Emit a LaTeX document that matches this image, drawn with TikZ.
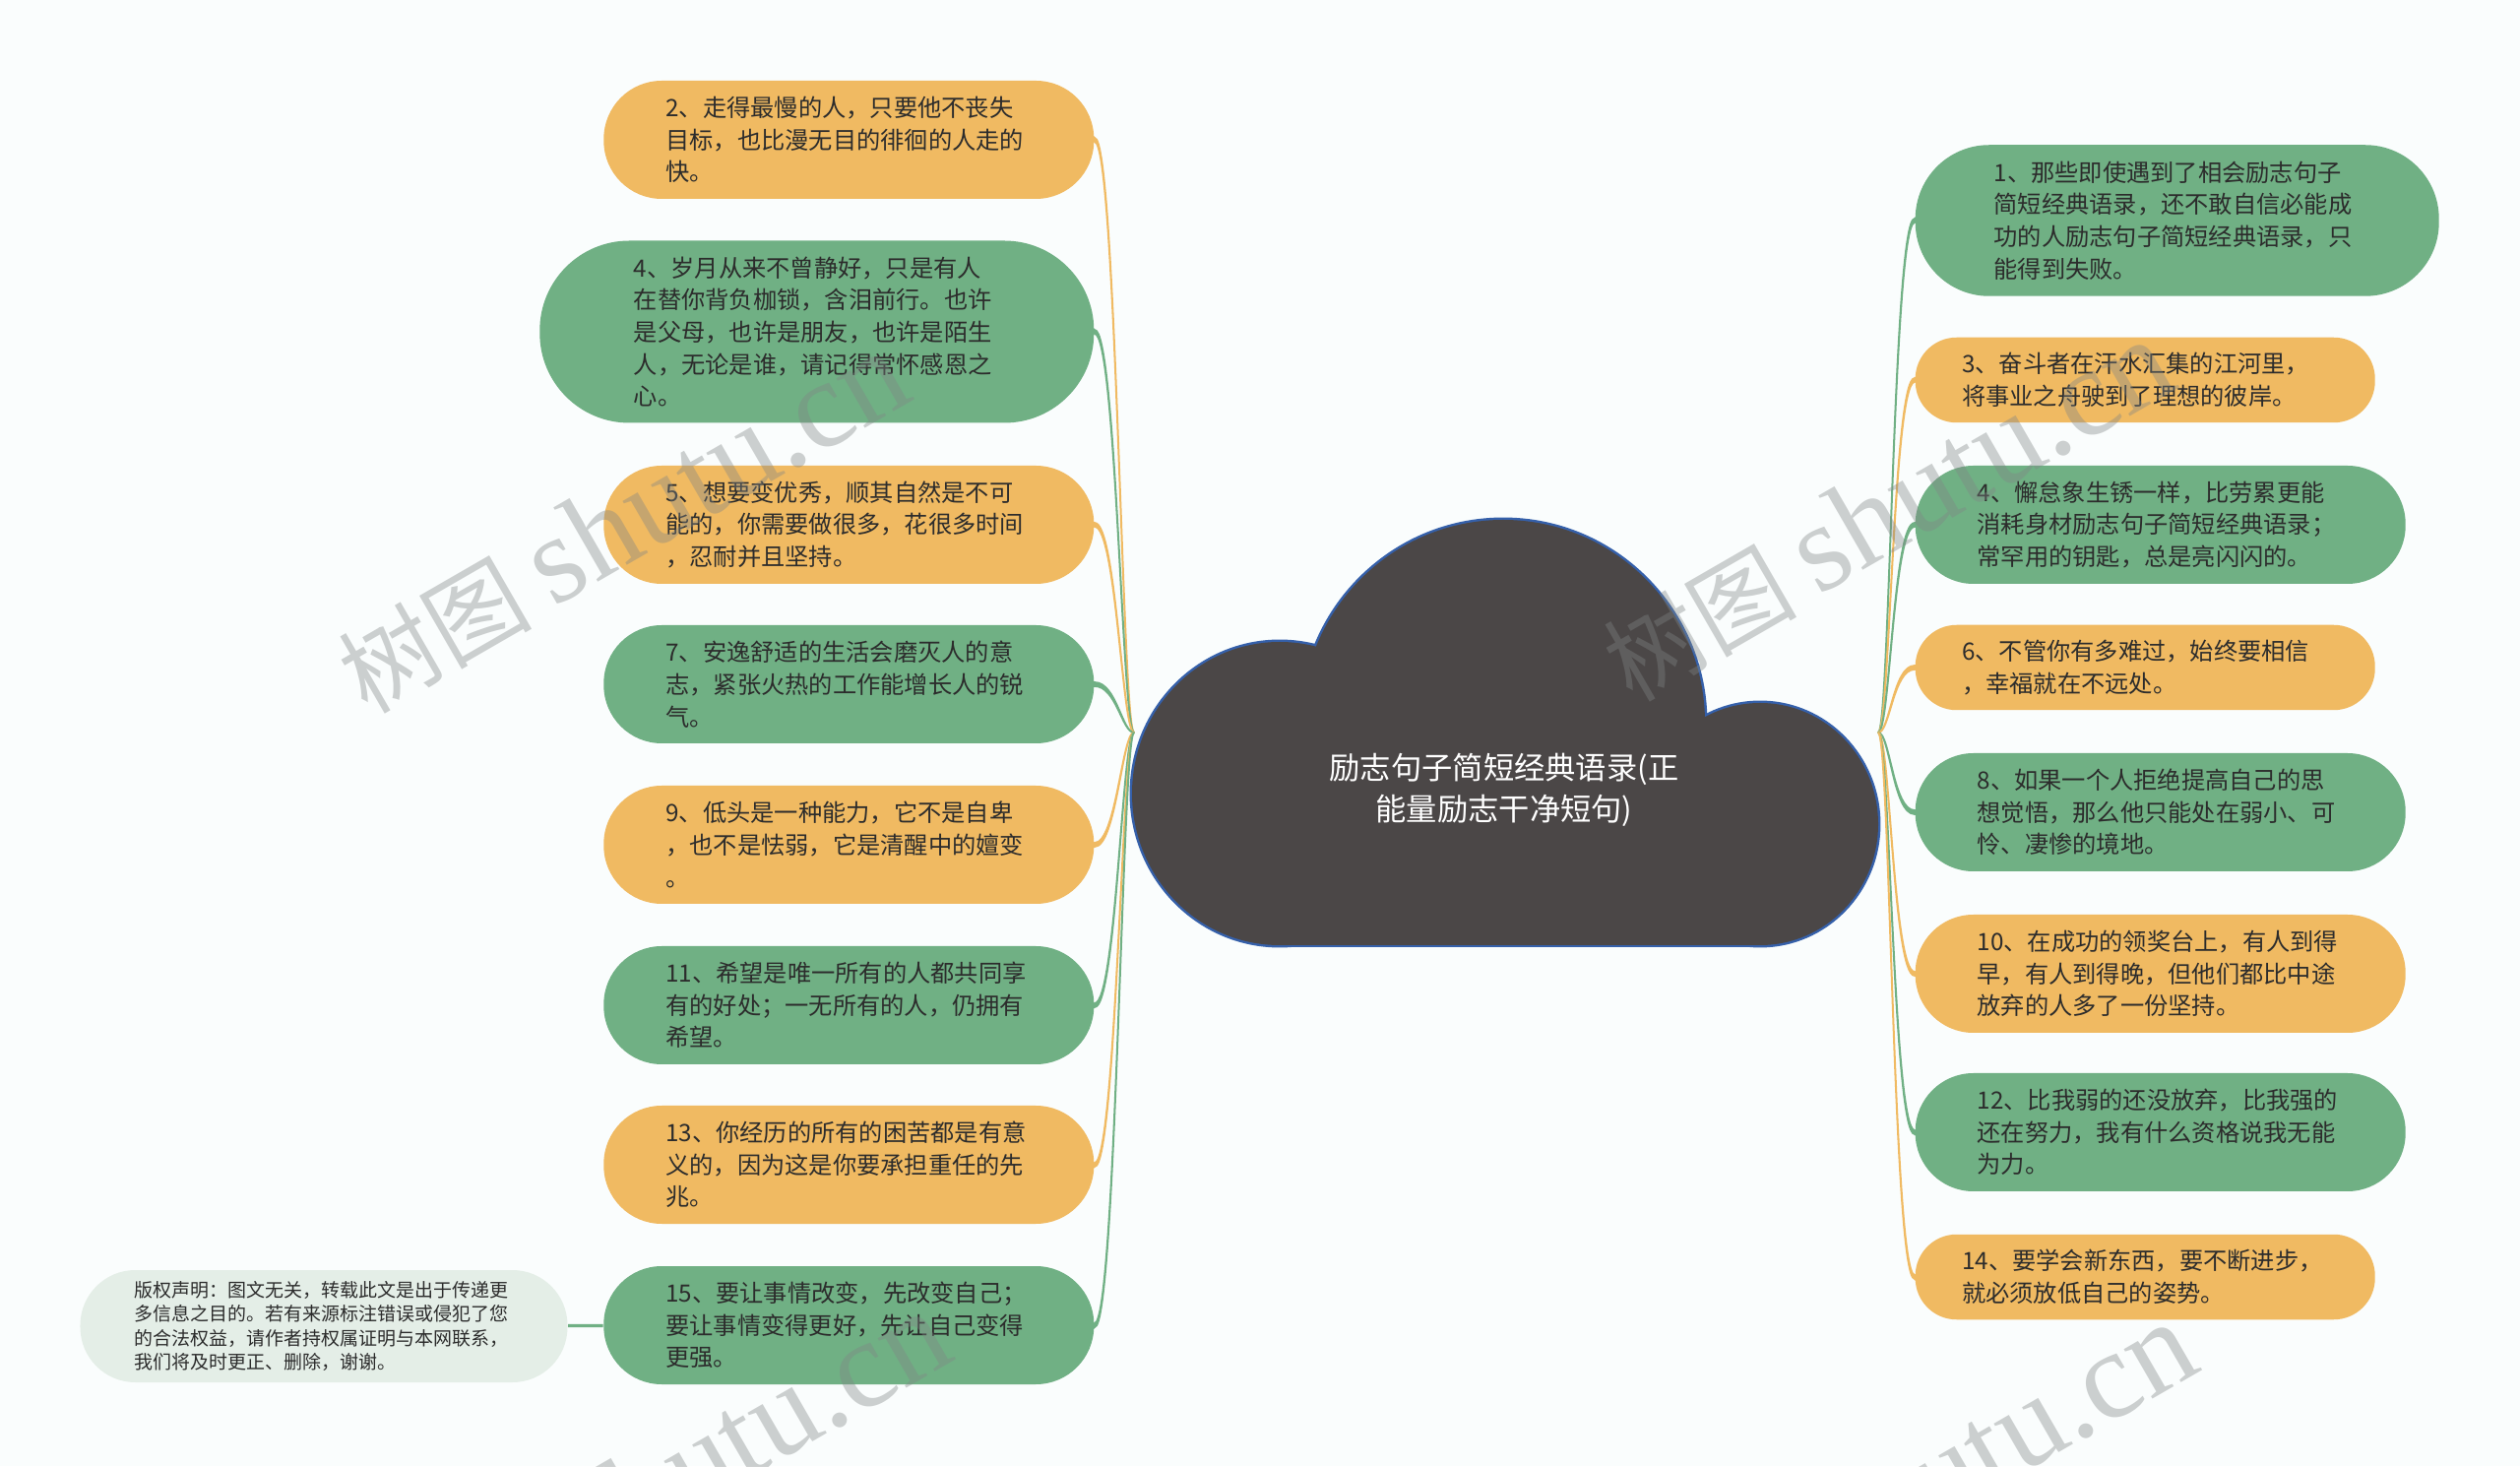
\documentclass[tikz,border=0pt]{standalone}
\usepackage{fontspec}
\setmainfont{Noto Sans CJK SC}
\newfontfamily\wmserif{Liberation Serif}
\usetikzlibrary{calc}
\definecolor{mmpaper}{HTML}{FAFDFD}
\definecolor{mmorange}{HTML}{F0BA62}
\definecolor{mmgreen}{HTML}{70B084}
\definecolor{mmnote}{HTML}{E4EEE7}
\definecolor{mmink}{HTML}{2C2C2C}
\definecolor{mmcloud}{HTML}{4B4747}
\definecolor{mmcloudedge}{HTML}{3560AA}
\definecolor{mmwater}{HTML}{808585}
\newcommand{\leaffont}{\fontsize{6.9pt}{9.3pt}\selectfont}
\newcommand{\notefont}{\fontsize{5.4pt}{6.9pt}\selectfont}
\newcommand{\titlefont}{\fontsize{8.9pt}{12pt}\selectfont}
\tikzset{
  leafbox/.style={rectangle,text width=3.72cm,align=left,inner ysep=0pt,
    font=\leaffont,text=mmink},
  twoline/.style={leafbox,minimum height=0.865cm,inner xsep=0.475cm,rounded corners=0.42cm},
  threeline/.style={leafbox,minimum height=1.2cm,inner xsep=0.63cm,rounded corners=0.59cm},
  fourline/.style={leafbox,minimum height=1.535cm,inner xsep=0.8cm,rounded corners=0.75cm},
  fiveline/.style={leafbox,minimum height=1.85cm,inner xsep=0.955cm,rounded corners=0.91cm},
  notebox/.style={rectangle,fill=mmnote,text width=3.85cm,align=left,inner xsep=0.55cm,
    inner ysep=0pt,minimum height=1.14cm,rounded corners=0.56cm,font=\notefont,text=mmink},
  titletext/.style={align=center,font=\titlefont,text=white},
  cloudrim/.style={draw=mmcloudedge,line width=1.4pt},
  cloudbody/.style={fill=mmcloud},
  watermark/.style={rotate=30,text=mmwater,text opacity=0.38,
    font=\fontsize{28pt}{28pt}\selectfont},
}

\begin{document}
\begin{tikzpicture}[x=1cm,y=1cm]
  \fill[mmpaper] (0,0) rectangle (25.6,14.89);
  \path[use as bounding box] (0,0) rectangle (25.6,14.89);
  \foreach \sty in {cloudrim,cloudbody}
    {\path[\sty] (13.0,6.83) ellipse[x radius=1.5cm,y radius=1.54cm];
     \path[\sty] (15.27,7.55) ellipse[x radius=2.05cm,y radius=2.06cm];
     \path[\sty] (17.88,6.52) ellipse[x radius=1.2cm,y radius=1.23cm];
     \path[\sty] (13.0,5.29) rectangle (17.88,7.0);}
  \node[titletext] (title) at (15.28,6.87) {励志句子简短经典语录(正\\能量励志干净短句)};
  \coordinate (rootL) at (11.52,7.45);
  \coordinate (rootR) at (19.08,7.45);
  \node[threeline,fill=mmorange,anchor=east] (l2) at (11.12,13.47)
    {2、走得最慢的人，只要他不丧失\\目标，也比漫无目的徘徊的人走的\\快。};
  \node[fiveline,fill=mmgreen,anchor=east] (l4) at (11.12,11.52)
    {4、岁月从来不曾静好，只是有人\\在替你背负枷锁，含泪前行。也许\\是父母，也许是朋友，也许是陌生\\人，无论是谁，请记得常怀感恩之\\心。};
  \node[threeline,fill=mmorange,anchor=east] (l5) at (11.12,9.56)
    {5、想要变优秀，顺其自然是不可\\能的，你需要做很多，花很多时间\\，忍耐并且坚持。};
  \node[threeline,fill=mmgreen,anchor=east] (l7) at (11.12,7.94)
    {7、安逸舒适的生活会磨灭人的意\\志，紧张火热的工作能增长人的锐\\气。};
  \node[threeline,fill=mmorange,anchor=east] (l9) at (11.12,6.31)
    {9、低头是一种能力，它不是自卑\\，也不是怯弱，它是清醒中的嬗变\\。};
  \node[threeline,fill=mmgreen,anchor=east] (l11) at (11.12,4.68)
    {11、希望是唯一所有的人都共同享\\有的好处；一无所有的人，仍拥有\\希望。};
  \node[threeline,fill=mmorange,anchor=east] (l13) at (11.12,3.06)
    {13、你经历的所有的困苦都是有意\\义的，因为这是你要承担重任的先\\兆。};
  \node[threeline,fill=mmgreen,anchor=east] (l15) at (11.12,1.43)
    {15、要让事情改变，先改变自己；\\要让事情变得更好，先让自己变得\\更强。};
  \node[notebox] (note) at (3.29,1.42)
    {版权声明：图文无关，转载此文是出于传递更\\多信息之目的。若有来源标注错误或侵犯了您\\的合法权益，请作者持权属证明与本网联系，\\我们将及时更正、删除，谢谢。};
  \node[fourline,fill=mmgreen,anchor=west] (r1) at (19.45,12.65)
    {1、那些即使遇到了相会励志句子\\简短经典语录，还不敢自信必能成\\功的人励志句子简短经典语录，只\\能得到失败。};
  \node[twoline,fill=mmorange,anchor=west] (r3) at (19.45,11.03)
    {3、奋斗者在汗水汇集的江河里，\\将事业之舟驶到了理想的彼岸。};
  \node[threeline,fill=mmgreen,anchor=west] (r4) at (19.45,9.56)
    {4、懈怠象生锈一样，比劳累更能\\消耗身材励志句子简短经典语录；\\常罕用的钥匙，总是亮闪闪的。};
  \node[twoline,fill=mmorange,anchor=west] (r6) at (19.45,8.11)
    {6、不管你有多难过，始终要相信\\，幸福就在不远处。};
  \node[threeline,fill=mmgreen,anchor=west] (r8) at (19.45,6.64)
    {8、如果一个人拒绝提高自己的思\\想觉悟，那么他只能处在弱小、可\\怜、凄惨的境地。};
  \node[threeline,fill=mmorange,anchor=west] (r10) at (19.45,5.00)
    {10、在成功的领奖台上，有人到得\\早，有人到得晚，但他们都比中途\\放弃的人多了一份坚持。};
  \node[threeline,fill=mmgreen,anchor=west] (r12) at (19.45,3.39)
    {12、比我弱的还没放弃，比我强的\\还在努力，我有什么资格说我无能\\为力。};
  \node[twoline,fill=mmorange,anchor=west] (r14) at (19.45,1.92)
    {14、要学会新东西，要不断进步，\\就必须放低自己的姿势。};
  \draw[mmgreen,line width=0.9pt] (note) -- (l15);
  \foreach \n/\c in {l2/mmorange,l4/mmgreen,l5/mmorange,l7/mmgreen,l9/mmorange,l11/mmgreen,l13/mmorange,l15/mmgreen}
    {\filldraw[\c,line width=0.55pt] (rootL) .. controls +(-0.12,0) and +(0.22,0) .. ($(\n.east)+(0,0.019)$)
      -- ($(\n.east)+(0,-0.019)$) .. controls +(0.22,0) and +(-0.12,0) .. (rootL) -- cycle;}
  \foreach \n/\c in {r1/mmgreen,r3/mmorange,r4/mmgreen,r6/mmorange,r8/mmgreen,r10/mmorange,r12/mmgreen,r14/mmorange}
    {\filldraw[\c,line width=0.55pt] (rootR) .. controls +(0.12,0) and +(-0.22,0) .. ($(\n.west)+(0,0.019)$)
      -- ($(\n.west)+(0,-0.019)$) .. controls +(-0.22,0) and +(0.12,0) .. (rootR) -- cycle;}
  \begin{scope}
    \clip (0,0) rectangle (25.6,14.89);
    \foreach \x/\y [count=\k] in {6.32/9.58,19.17/9.70,6.74/-0.17,19.40/-0.28}
      {\node[watermark] (wm\k) at (\x,\y) {树图 {\wmserif\fontsize{36pt}{36pt}\selectfont shutu.cn}};}
  \end{scope}
\end{tikzpicture}
\end{document}
